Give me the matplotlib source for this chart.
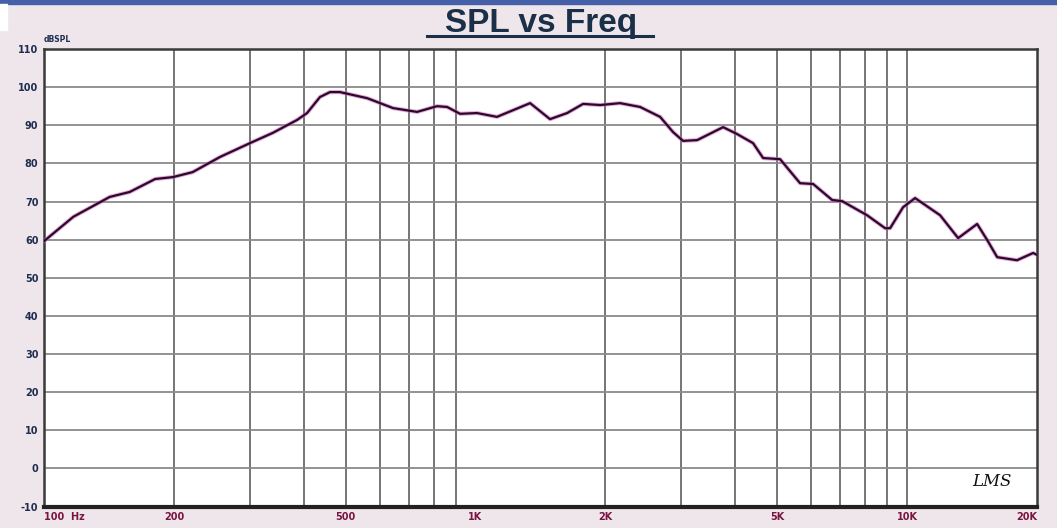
import matplotlib

matplotlib.use("Agg")
import matplotlib.pyplot as plt
from matplotlib.patches import Rectangle
from matplotlib.ticker import FixedLocator, NullFormatter

plt.rcParams["axes.unicode_minus"] = False

# frequency response (Hz, dB SPL)
freq = [100, 117, 142, 158, 181, 199, 221, 256, 300, 339, 386, 407, 436, 460,
        485, 561, 644, 732, 814, 859, 921, 1008, 1121, 1338, 1488, 1630, 1775,
        1944, 2162, 2406, 2677, 2869, 3026, 3262, 3747, 4036, 4397, 4638, 5078,
        5649, 6056, 6703, 7069, 8076, 8892, 9133, 9788, 10435, 11924, 13130,
        14530, 15330, 16170, 17980, 19590, 20000]
spl = [59.6, 66.0, 71.2, 72.5, 75.9, 76.4, 77.7, 81.7, 85.3, 88.0, 91.4, 93.2,
       97.4, 98.7, 98.7, 97.1, 94.5, 93.5, 95.0, 94.8, 93.0, 93.2, 92.2, 95.8,
       91.6, 93.2, 95.6, 95.3, 95.8, 94.8, 92.2, 88.2, 85.9, 86.1, 89.5, 87.7,
       85.3, 81.4, 81.1, 74.8, 74.6, 70.4, 70.1, 66.4, 63.0, 63.0, 68.5, 70.9,
       66.4, 60.4, 64.1, 59.9, 55.4, 54.6, 56.5, 56.0]

y_ticks = list(range(-10, 111, 10))
x_ticks = [100, 200, 500, 1000, 2000, 5000, 10000, 20000]
x_labels = ["100  Hz", "200", "500", "1K", "2K", "5K", "10K", "20K"]
grid_freqs = [200, 300, 400, 500, 600, 700, 800, 900,
              2000, 3000, 4000, 5000, 6000, 7000, 8000, 9000, 10000]

bg = "#eee6ea"
navy = "#1e2d50"
wine = "#7a1442"

fig = plt.figure(figsize=(10.57, 5.28), dpi=100, facecolor=bg)
fig.patches.append(Rectangle((0, 0.992), 1, 0.008, transform=fig.transFigure,
                             color="#4560a8", zorder=0))
fig.patches.append(Rectangle((0, 0.943), 0.007, 0.049, transform=fig.transFigure,
                             color="white", zorder=0))

ax = fig.add_axes([0.0416, 0.0407, 0.9395, 0.8665])
ax.set_facecolor("white")
ax.set_xscale("log")
ax.set_xlim(100, 20000)
ax.set_ylim(-10, 110)

for f in grid_freqs:
    ax.axvline(f, color="#5e5e5e", lw=1.2, zorder=1)
for v in y_ticks[1:-1]:
    ax.axhline(v, color="#8a8a8a", lw=1.3, zorder=1)

ax.xaxis.set_major_locator(FixedLocator(x_ticks))
ax.xaxis.set_minor_formatter(NullFormatter())
ax.set_xticks(x_ticks, x_labels)
ax.set_yticks(y_ticks)
ax.tick_params(length=0, labelsize=7, pad=4)
ax.tick_params(axis="both", which="minor", length=0)
for lab in ax.get_xticklabels():
    lab.set_color(wine)
    lab.set_fontweight("heavy")
for lab in ax.get_yticklabels():
    lab.set_color(navy)
    lab.set_fontweight("heavy")
ax.get_xticklabels()[0].set_horizontalalignment("left")
ax.get_xticklabels()[-1].set_horizontalalignment("right")

for side in ["top", "left", "right"]:
    ax.spines[side].set_color("#3a3a3a")
    ax.spines[side].set_linewidth(1.8)
ax.spines["bottom"].set_color("#222222")
ax.spines["bottom"].set_linewidth(3)

ax.plot(freq, spl, color="#d060c0", lw=3.0, alpha=0.55, zorder=3)
ax.plot(freq, spl, color="#2a0a28", lw=1.6, zorder=4)

ax.text(0.0, 1.012, "dBSPL", transform=ax.transAxes, fontsize=5.5,
        fontweight="bold", color=navy, ha="left", va="bottom")
ax.text(0.955, 0.045, "LMS", transform=ax.transAxes, fontsize=12,
        style="italic", family="DejaVu Serif", color="#111111", ha="center")

fig.text(0.512, 0.940, "SPL vs Freq", fontsize=24, fontweight="bold",
         family="Liberation Sans", color="#1a2f48", ha="center", va="baseline")
fig.lines.append(plt.Line2D([0.404, 0.618], [0.931, 0.931], transform=fig.transFigure,
                            color="#1a2f48", lw=2.2))

fig.savefig("out.png", dpi=100, facecolor=bg)
